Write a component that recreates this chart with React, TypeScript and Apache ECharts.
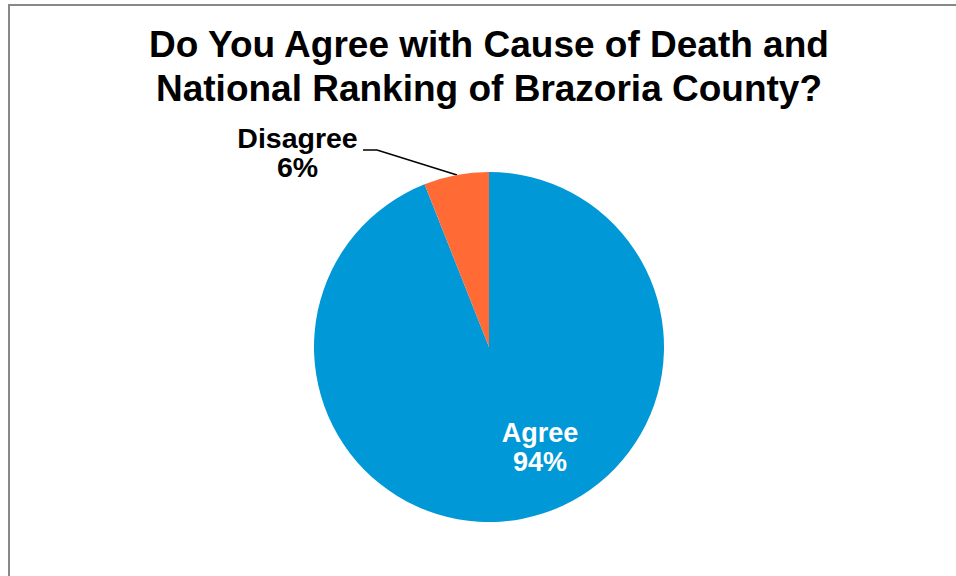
import React, { useEffect, useRef } from "react";
import * as echarts from "echarts";

const titleLines = ["Do You Agree with Cause of Death and", "National Ranking of Brazoria County?"];
const categories = ["Agree", "Disagree"];
const values = [94, 6];
const colors = ["#0098D6", "#FF6A35"];

export default function App() {
  const ref = useRef<HTMLDivElement>(null);
  useEffect(() => {
    if (!ref.current) return;
    const chart = echarts.init(ref.current, null, { renderer: "svg" });
    const font = "'Liberation Sans', Arial, sans-serif";
    chart.setOption({
      animation: false,
      backgroundColor: "#ffffff",
      graphic: [
        {
          type: "rect",
          shape: { x: 9, y: 5, width: 1000, height: 1000 },
          style: { fill: "none", stroke: "#888888", lineWidth: 2 },
          silent: true,
        },
        {
          type: "text",
          x: 489,
          y: 23,
          style: {
            text: titleLines.join("\n"),
            align: "center",
            verticalAlign: "top",
            fontFamily: font,
            fontSize: 37,
            fontWeight: "bold",
            lineHeight: 43.5,
            fill: "#000000",
          },
        },
      ],
      series: [
        {
          type: "pie",
          center: [489, 347],
          radius: 175,
          startAngle: 90,
          clockwise: true,
          avoidLabelOverlap: false,
          data: categories.map((name, i) => ({
            name,
            value: values[i],
            itemStyle: { color: colors[i] },
            label:
              i === 0
                ? { position: "inside", color: "#ffffff", fontSize: 27 }
                : { position: "outside", color: "#000000", fontSize: 28.5 },
            labelLine: { show: i !== 0 },
          })),
          label: {
            formatter: "{b}\n{c}%",
            fontFamily: font,
            fontWeight: "bold",
            lineHeight: 29,
            align: "center",
          },
          labelLine: {
            lineStyle: { color: "#000000", width: 1.5 },
          },
          labelLayout: (params: any) => {
            if (params.dataIndex === 0) {
              return { x: 540, y: 447, align: "center", verticalAlign: "middle" };
            }
            return {
              x: 297.5,
              y: 152.5,
              align: "center",
              verticalAlign: "middle",
              labelLinePoints: [
                [457, 175],
                [377, 150],
                [363, 150],
              ],
            };
          },
        },
      ],
    });
    return () => chart.dispose();
  }, []);
  return (
    <div
      ref={ref}
      style={{ position: "fixed", left: 0, top: 0, width: 956, height: 576 }}
    />
  );
}
